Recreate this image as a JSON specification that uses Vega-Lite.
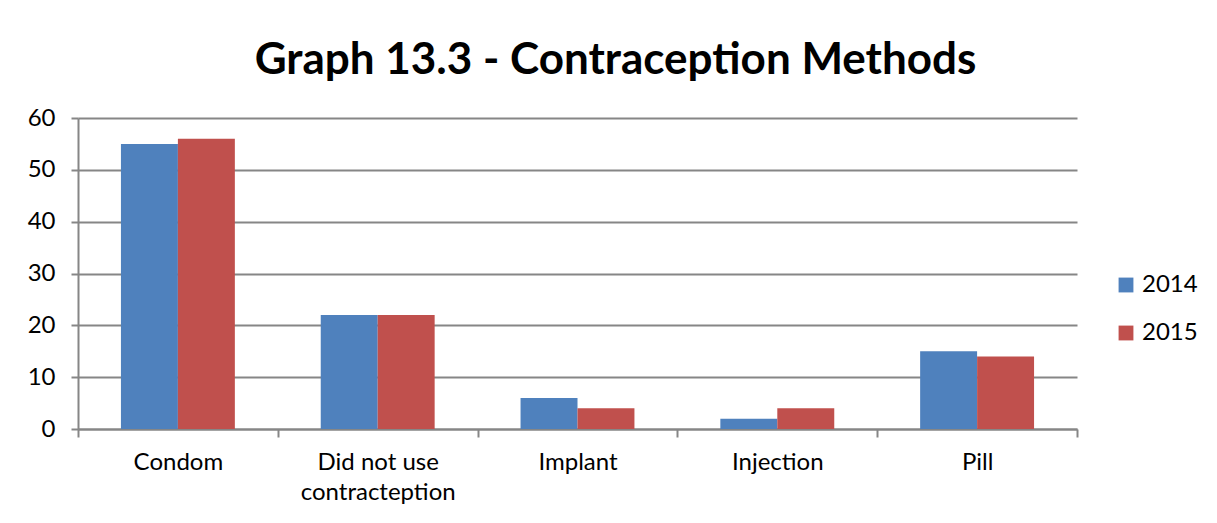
{
  "$schema": "https://vega.github.io/schema/vega-lite/v6.json",
  "autosize": {"type": "none"},
  "width": 999,
  "height": 311,
  "padding": {"left": 78, "top": 118, "right": 140, "bottom": 94},
  "background": "white",
  "title": {
    "text": "Graph 13.3 - Contraception Methods",
    "font": "Lato",
    "fontSize": 44,
    "fontWeight": "bold",
    "color": "#000000",
    "anchor": "middle",
    "dx": 38,
    "offset": 23
  },
  "data": {
    "values": [
      {"method": "Condom", "year": "2014", "value": 55},
      {"method": "Condom", "year": "2015", "value": 56},
      {"method": "Did not use contracteption", "year": "2014", "value": 22},
      {"method": "Did not use contracteption", "year": "2015", "value": 22},
      {"method": "Implant", "year": "2014", "value": 6},
      {"method": "Implant", "year": "2015", "value": 4},
      {"method": "Injection", "year": "2014", "value": 2},
      {"method": "Injection", "year": "2015", "value": 4},
      {"method": "Pill", "year": "2014", "value": 15},
      {"method": "Pill", "year": "2015", "value": 14}
    ]
  },
  "mark": {"type": "bar"},
  "encoding": {
    "x": {
      "field": "method",
      "type": "nominal",
      "sort": null,
      "title": null,
      "scale": {"paddingInner": 0, "paddingOuter": 0},
      "axis": {
        "labelAngle": 0,
        "labelFont": "Lato",
        "labelFontSize": 24,
        "labelColor": "#000000",
        "labelPadding": 13,
        "labelLineHeight": 30,
        "labelExpr": "datum.label == 'Did not use contracteption' ? ['Did not use', 'contracteption'] : datum.label",
        "tickBand": "extent",
        "tickSize": 8,
        "tickColor": "#868686",
        "tickWidth": 2,
        "domainColor": "#868686",
        "domainWidth": 2,
        "grid": false
      }
    },
    "xOffset": {
      "field": "year",
      "type": "nominal",
      "scale": {"paddingInner": 0, "paddingOuter": 0.754}
    },
    "y": {
      "field": "value",
      "type": "quantitative",
      "title": null,
      "scale": {"domain": [0, 60], "nice": false},
      "axis": {
        "values": [0, 10, 20, 30, 40, 50, 60],
        "labelFont": "Lato",
        "labelFontSize": 24,
        "labelColor": "#000000",
        "labelPadding": 16,
        "tickSize": 7,
        "tickColor": "#868686",
        "tickWidth": 2,
        "domainColor": "#868686",
        "domainWidth": 2,
        "gridColor": "#868686",
        "gridWidth": 2
      }
    },
    "color": {
      "field": "year",
      "type": "nominal",
      "title": null,
      "scale": {"domain": ["2014", "2015"], "range": ["#4F81BD", "#C0504D"]},
      "legend": {
        "orient": "none",
        "legendX": 1036,
        "legendY": 155,
        "symbolType": "square",
        "symbolSize": 220,
        "symbolStrokeWidth": 0,
        "labelFont": "Lato",
        "labelFontSize": 24,
        "labelColor": "#000000",
        "rowPadding": 24,
        "labelOffset": 4
      }
    }
  },
  "config": {
    "view": {"stroke": null}
  }
}
